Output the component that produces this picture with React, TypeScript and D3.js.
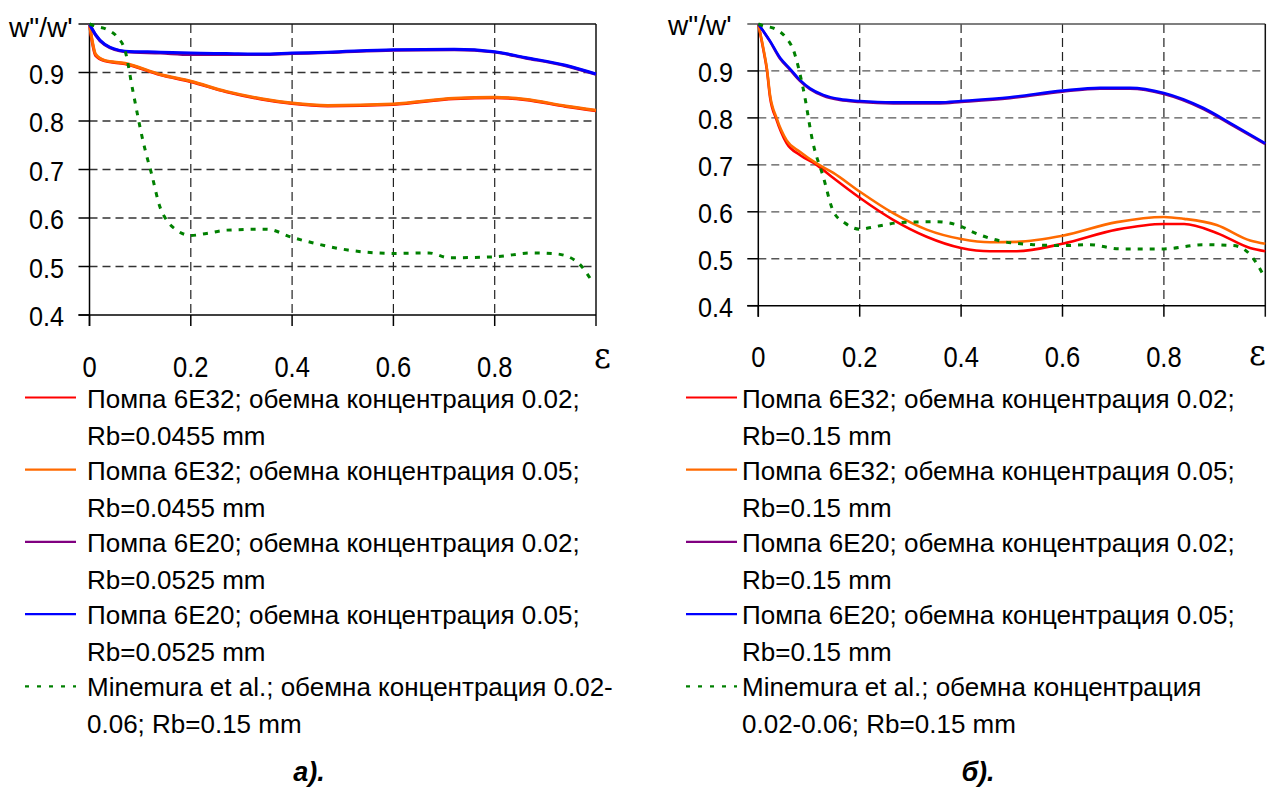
import React from "react"
import * as d3 from "d3"

// ---- data ----
const yTicks = [0.4, 0.5, 0.6, 0.7, 0.8, 0.9]
const xTicks = [0, 0.2, 0.4, 0.6, 0.8]

// panel a)
const leftEps = [0, 0.005, 0.012, 0.03, 0.07, 0.14, 0.2, 0.27, 0.34, 0.4, 0.47, 0.6, 0.72, 0.8, 0.86, 0.94, 1.0]
const leftRed = [1.0, 0.965, 0.935, 0.924, 0.918, 0.895, 0.881, 0.86, 0.845, 0.836, 0.831, 0.834, 0.846, 0.848, 0.844, 0.83, 0.821]
const leftOrange = [1.0, 0.968, 0.938, 0.925, 0.919, 0.896, 0.882, 0.861, 0.846, 0.837, 0.832, 0.835, 0.847, 0.849, 0.845, 0.831, 0.822]
const leftPurple = [1.0, 0.99, 0.977, 0.957, 0.943, 0.94, 0.937, 0.937, 0.937, 0.939, 0.941, 0.946, 0.947, 0.942, 0.93, 0.914, 0.896]
const leftBlue = [1.0, 0.99, 0.978, 0.958, 0.944, 0.942, 0.94, 0.939, 0.938, 0.94, 0.942, 0.947, 0.948, 0.943, 0.931, 0.915, 0.897]
const leftMinEps = [0, 0.01, 0.034, 0.054, 0.07, 0.086, 0.106, 0.123, 0.139, 0.152, 0.172, 0.2, 0.231, 0.271, 0.35, 0.4, 0.44, 0.51, 0.6, 0.67, 0.71, 0.8, 0.876, 0.922, 0.962, 0.995]
const leftMin = [1.0, 0.996, 0.989, 0.974, 0.946, 0.86, 0.757, 0.689, 0.623, 0.596, 0.575, 0.564, 0.568, 0.575, 0.577, 0.56, 0.549, 0.534, 0.527, 0.528, 0.518, 0.52, 0.528, 0.526, 0.51, 0.465]

// panel б)
const rightEps = [0, 0.01, 0.017, 0.023, 0.036, 0.056, 0.082, 0.115, 0.148, 0.2, 0.266, 0.332, 0.4, 0.457, 0.51, 0.6, 0.707, 0.8, 0.84, 0.904, 0.97, 1.0]
const rightRed = [1.0, 0.945, 0.902, 0.845, 0.796, 0.746, 0.721, 0.7, 0.672, 0.63, 0.583, 0.547, 0.523, 0.516, 0.516, 0.532, 0.562, 0.574, 0.574, 0.555, 0.523, 0.516]
const rightOrange = [1.0, 0.948, 0.905, 0.85, 0.8, 0.752, 0.728, 0.703, 0.683, 0.643, 0.597, 0.562, 0.542, 0.535, 0.536, 0.549, 0.578, 0.589, 0.585, 0.572, 0.539, 0.532]
const rightBlueEps = [0, 0.023, 0.043, 0.063, 0.082, 0.102, 0.128, 0.161, 0.2, 0.266, 0.358, 0.4, 0.496, 0.6, 0.674, 0.733, 0.8, 0.878, 0.937, 1.0]
const rightPurple = [1.0, 0.963, 0.926, 0.902, 0.879, 0.861, 0.847, 0.838, 0.834, 0.831, 0.831, 0.834, 0.842, 0.856, 0.862, 0.862, 0.851, 0.819, 0.783, 0.744]
const rightBlue = [1.0, 0.964, 0.928, 0.904, 0.881, 0.863, 0.849, 0.84, 0.836, 0.833, 0.833, 0.836, 0.844, 0.858, 0.864, 0.864, 0.853, 0.821, 0.785, 0.746]
const rightMinEps = [0, 0.01, 0.03, 0.053, 0.069, 0.089, 0.108, 0.128, 0.148, 0.171, 0.2, 0.233, 0.28, 0.352, 0.4, 0.421, 0.477, 0.542, 0.6, 0.654, 0.713, 0.8, 0.878, 0.937, 0.97, 0.996]
const rightMin = [1.0, 0.996, 0.991, 0.973, 0.945, 0.86, 0.746, 0.675, 0.601, 0.576, 0.563, 0.569, 0.577, 0.579, 0.569, 0.558, 0.538, 0.53, 0.528, 0.53, 0.521, 0.521, 0.53, 0.528, 0.509, 0.466]

const leftLegend = [
  ["Помпа 6E32; обемна концентрация 0.02;", "Rb=0.0455 mm"],
  ["Помпа 6E32; обемна концентрация 0.05;", "Rb=0.0455 mm"],
  ["Помпа 6E20; обемна концентрация 0.02;", "Rb=0.0525 mm"],
  ["Помпа 6E20; обемна концентрация 0.05;", "Rb=0.0525 mm"],
  ["Minemura et al.; обемна концентрация 0.02-", "0.06; Rb=0.15 mm"],
]
const rightLegend = [
  ["Помпа 6E32; обемна концентрация 0.02;", "Rb=0.15 mm"],
  ["Помпа 6E32; обемна концентрация 0.05;", "Rb=0.15 mm"],
  ["Помпа 6E20; обемна концентрация 0.02;", "Rb=0.15 mm"],
  ["Помпа 6E20; обемна концентрация 0.05;", "Rb=0.15 mm"],
  ["Minemura et al.; обемна концентрация", "0.02-0.06; Rb=0.15 mm"],
]

const colors = ["#ff0000", "#ff6a00", "#800080", "#0000ff", "#008000"]
const FONT = "'Liberation Sans', Arial, sans-serif"

// text helper, sx squeezes it horizontally (the axis digits look condensed)
const T = ({ x, y, size = 26, anchor = "start", children, weight = "normal", italic = false, family = FONT, sx = 1 }: any) => (
  <text
    transform={`translate(${x},${y}) scale(${sx},1)`}
    fontFamily={family}
    fontSize={size}
    fontWeight={weight}
    fontStyle={italic ? "italic" : "normal"}
    textAnchor={anchor}
    fill="#000"
  >
    {children}
  </text>
)

const Panel = ({ g, series, legend, caption }: any) => {
  const x = d3.scaleLinear().domain([0, 1]).range([g.x0, g.x1])
  const y = d3.scaleLinear().domain([0.4, 1]).range([g.yBot, g.yTop])
  const line = d3
    .line<[number, number]>()
    .x(d => x(d[0]))
    .y(d => y(d[1]))
    .curve(d3.curveMonotoneX)

  return (
    <g>
      {/* grid */}
      {yTicks.slice(1).map(t => (
        <line key={"h" + t} x1={g.x0} x2={g.x1 - 4} y1={y(t)} y2={y(t)} stroke={g.hGrid} strokeWidth={1.3} strokeDasharray="8,5" />
      ))}
      {xTicks.slice(1).map(t => (
        <line key={"v" + t} x1={x(t)} x2={x(t)} y1={g.yTop} y2={g.yBot} stroke="#222" strokeWidth={1.2} strokeDasharray="9,5" />
      ))}
      {/* frame */}
      <line x1={g.x0 - 11} x2={g.x1} y1={g.yTop} y2={g.yTop} stroke={g.top} strokeWidth={1.5} />
      <line x1={g.x1} x2={g.x1} y1={g.yTop} y2={g.yBot + 11} stroke="#111" strokeWidth={1.5} />
      <line x1={g.x0} x2={g.x0} y1={g.yTop} y2={g.yBot + 11} stroke="#000" strokeWidth={1.5} />
      <line x1={g.x0 - 11} x2={g.x1} y1={g.yBot} y2={g.yBot} stroke="#000" strokeWidth={1.5} />
      {yTicks.map(t => (
        <line key={"yt" + t} x1={g.x0 - 11} x2={g.x0} y1={y(t)} y2={y(t)} stroke="#000" strokeWidth={1.5} />
      ))}
      {xTicks.map(t => (
        <line key={"xt" + t} x1={x(t)} x2={x(t)} y1={g.yBot} y2={g.yBot + 11} stroke="#000" strokeWidth={1.5} />
      ))}
      {/* labels */}
      {yTicks.map(t => (
        <T key={"yl" + t} x={g.yLabelX} y={y(t) + 11} size={28} sx={0.9} anchor="end">{t.toFixed(1)}</T>
      ))}
      {xTicks.map(t => (
        <T key={"xl" + t} x={x(t)} y={g.xLabelY} size={29} sx={0.88} anchor="middle">{t === 0 ? "0" : t.toFixed(1)}</T>
      ))}
      <T x={g.wX} y={g.wY} size={28}>w"/w'</T>
      <T x={g.epsX} y={g.epsY} size={36} family="'DejaVu Serif', 'Liberation Serif', serif" sx={0.9}>ε</T>

      {/* curves */}
      {series.map((s: any, i: number) => (
        <path
          key={"s" + i}
          d={line(s.eps.map((e: number, j: number) => [e, s.val[j]]) as [number, number][]) || ""}
          fill="none"
          stroke={colors[i]}
          strokeWidth={i === 4 ? 3 : g.lw}
          strokeDasharray={i === 4 ? "5,7" : undefined}
          strokeLinejoin="round"
        />
      ))}

      {/* legend */}
      {legend.map((rows: string[], i: number) => {
        const cy = g.legY + i * 72.2
        return (
          <g key={"lg" + i}>
            <line x1={g.legX0} x2={g.legX1} y1={cy} y2={cy} stroke={colors[i]} strokeWidth={2.2} strokeDasharray={i === 4 ? "4,8" : undefined} />
            <T x={g.legTX} y={cy + 10}>{rows[0]}</T>
            <T x={g.legTX} y={cy + 47}>{rows[1]}</T>
          </g>
        )
      })}
      <T x={g.capX} y={781} size={27} weight="bold" italic anchor="middle">{caption}</T>
    </g>
  )
}

const leftGeom = {
  x0: 89.5, x1: 596, yTop: 24, yBot: 315, yLabelX: 64, xLabelY: 377, wX: 9, wY: 37,
  epsX: 594, epsY: 368, legX0: 25, legX1: 76, legTX: 87, legY: 397.5, capX: 309,
  hGrid: "#333", top: "#111", lw: 3,
}
const rightGeom = {
  x0: 758.3, x1: 1265.3, yTop: 24, yBot: 305.7, yLabelX: 733, xLabelY: 367, wX: 668, wY: 35,
  epsX: 1249, epsY: 365, legX0: 686, legX1: 737, legTX: 742, legY: 397.5, capX: 978,
  hGrid: "#555", top: "#555", lw: 2.6,
}

const leftSeries = [
  { eps: leftEps, val: leftRed },
  { eps: leftEps, val: leftOrange },
  { eps: leftEps, val: leftPurple },
  { eps: leftEps, val: leftBlue },
  { eps: leftMinEps, val: leftMin },
]
const rightSeries = [
  { eps: rightEps, val: rightRed },
  { eps: rightEps, val: rightOrange },
  { eps: rightBlueEps, val: rightPurple },
  { eps: rightBlueEps, val: rightBlue },
  { eps: rightMinEps, val: rightMin },
]

const App = () => (
  <svg width={1271} height={788} style={{ position: "absolute", left: 0, top: 0, background: "#fff" }}>
    <rect width={1271} height={788} fill="#fff" />
    <Panel g={leftGeom} series={leftSeries} legend={leftLegend} caption="а)." />
    <Panel g={rightGeom} series={rightSeries} legend={rightLegend} caption="б)." />
  </svg>
)

export default App
